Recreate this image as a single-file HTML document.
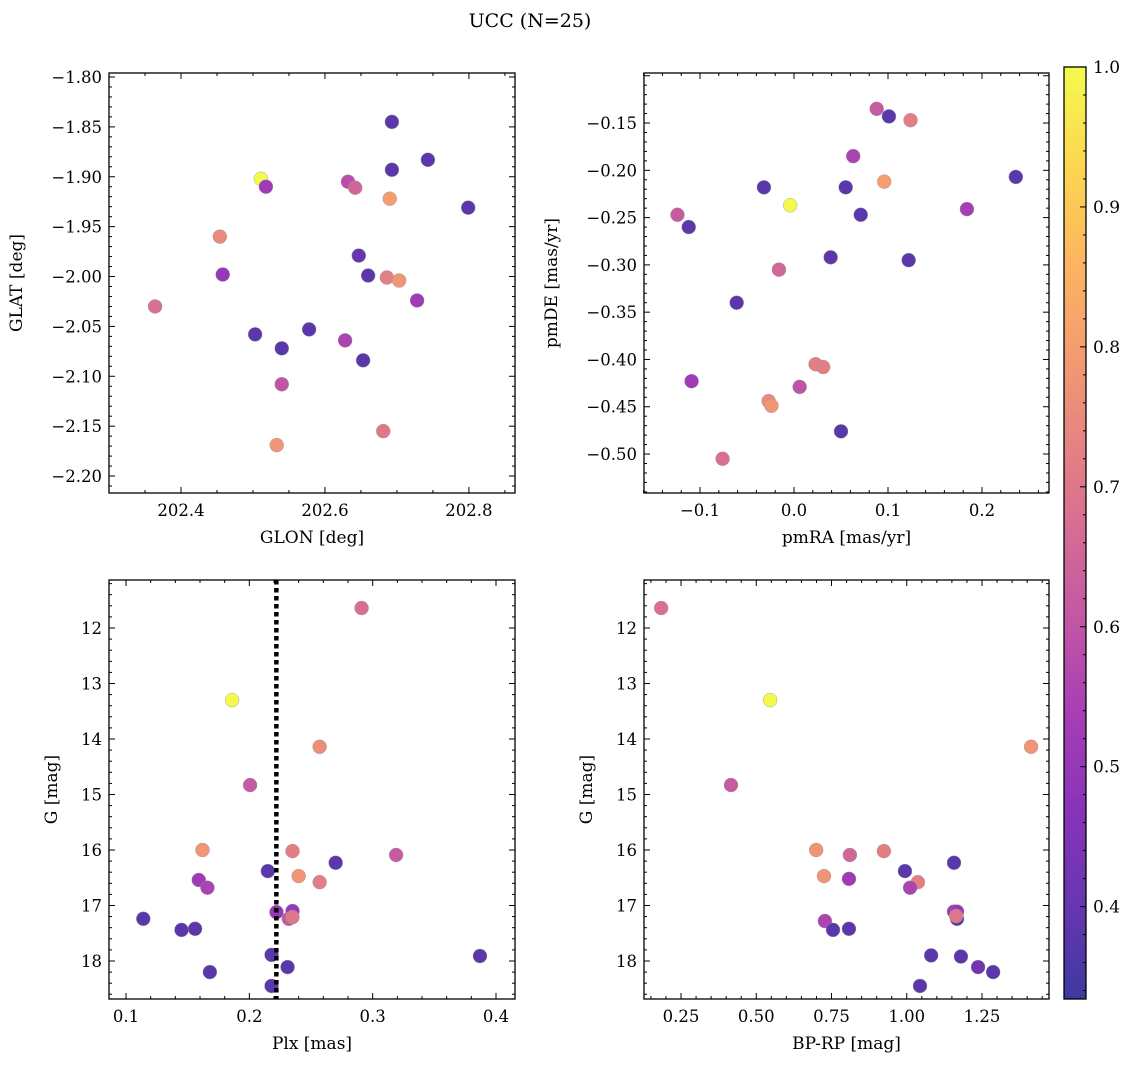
<!DOCTYPE html>
<html><head><meta charset="utf-8"><style>
html,body{margin:0;padding:0;background:#fff;}
svg text{font-family:"DejaVu Serif","Liberation Serif",serif;fill:#000;}
</style></head><body>
<svg id="fig" width="1136" height="1067" viewBox="0 0 1136 1067" xmlns="http://www.w3.org/2000/svg">
<defs><linearGradient id="cbg" x1="0" y1="1" x2="0" y2="0"></linearGradient></defs>
<text x="530" y="27" font-size="19" text-anchor="middle">UCC (N=25)</text>
</svg>
<script>
// ---- data (per panel) ----
const glon = [202.511,202.518,202.693,202.693,202.743,202.799,202.632,202.642,202.690,202.454,202.458,202.647,202.660,202.686,202.703,202.728,202.364,202.503,202.540,202.578,202.628,202.653,202.540,202.533,202.681];
const glat = [-1.902,-1.910,-1.845,-1.893,-1.883,-1.931,-1.905,-1.911,-1.922,-1.960,-1.998,-1.979,-1.999,-2.001,-2.004,-2.024,-2.030,-2.058,-2.072,-2.053,-2.064,-2.084,-2.108,-2.169,-2.155];
const probA = [1.0,0.52,0.38,0.38,0.38,0.38,0.58,0.65,0.8,0.75,0.5,0.4,0.38,0.72,0.78,0.52,0.68,0.38,0.38,0.38,0.55,0.38,0.6,0.78,0.7];

const pmra = [-0.004,0.088,0.101,0.124,0.063,-0.032,0.055,0.096,0.236,-0.124,-0.112,0.071,0.184,0.039,0.122,-0.016,-0.061,0.023,0.031,-0.109,0.006,-0.027,-0.024,0.050,-0.076];
const pmde = [-0.237,-0.135,-0.143,-0.147,-0.185,-0.218,-0.218,-0.212,-0.207,-0.247,-0.260,-0.247,-0.241,-0.292,-0.295,-0.305,-0.340,-0.405,-0.408,-0.423,-0.429,-0.444,-0.449,-0.476,-0.505];
const probB = [1.0,0.62,0.38,0.72,0.55,0.38,0.38,0.8,0.38,0.62,0.38,0.38,0.53,0.38,0.38,0.65,0.38,0.72,0.72,0.52,0.6,0.75,0.78,0.38,0.68];

const plx = [0.291,0.186,0.257,0.2006,0.162,0.235,0.270,0.319,0.215,0.159,0.240,0.257,0.166,0.114,0.222,0.235,0.232,0.235,0.145,0.156,0.168,0.218,0.231,0.218,0.387];
const gmagC = [11.64,13.30,14.14,14.83,16.00,16.02,16.23,16.09,16.38,16.54,16.47,16.58,16.68,17.24,17.12,17.10,17.24,17.21,17.44,17.42,18.20,17.89,18.11,18.45,17.91];
const probC = [0.68,1.0,0.76,0.62,0.78,0.72,0.38,0.62,0.38,0.52,0.78,0.72,0.55,0.38,0.5,0.5,0.6,0.7,0.38,0.38,0.38,0.38,0.38,0.38,0.38];
const plxLine = 0.2219;

const bprp = [0.184,0.546,1.413,0.416,0.699,0.811,0.924,1.157,0.994,0.725,0.808,1.037,1.011,1.157,1.167,1.167,1.164,0.728,0.755,0.808,1.081,1.180,1.237,1.287,1.044];
const gmagD = [11.64,13.30,14.14,14.83,16.00,16.09,16.02,16.23,16.38,16.47,16.52,16.58,16.68,17.11,17.11,17.24,17.19,17.28,17.44,17.42,17.90,17.92,18.11,18.20,18.45];
const probD = [0.68,1.0,0.78,0.62,0.78,0.65,0.72,0.38,0.38,0.78,0.52,0.72,0.55,0.5,0.5,0.38,0.7,0.55,0.38,0.38,0.38,0.38,0.42,0.38,0.38];

const cbTicks = [0.4,0.5,0.6,0.7,0.8,0.9,1.0];

// ---- helpers ----
const NS="http://www.w3.org/2000/svg";
const svg=document.getElementById('fig');
function mk(tag,attrs,parent){const e=document.createElementNS(NS,tag);for(const k in attrs)e.setAttribute(k,attrs[k]);(parent||svg).appendChild(e);return e;}
const plasma=[[13,8,135],[65,4,157],[106,0,168],[143,13,164],[177,42,144],[204,71,120],[225,100,98],[242,132,75],[252,166,54],[252,206,37],[240,249,33]];
const VMIN=0.334,VMAX=1.0,ALPHA=0.8;
function cmap(v){let t=(v-VMIN)/(VMAX-VMIN);t=Math.max(0,Math.min(1,t));const f=t*10,i=Math.min(9,Math.floor(f)),r=f-i;const a=plasma[i],b=plasma[i+1];
  const c=[0,1,2].map(j=>a[j]+(b[j]-a[j])*r).map(x=>Math.round(x*ALPHA+255*(1-ALPHA)));return `rgb(${c[0]},${c[1]},${c[2]})`;}

function panel(cfg){
  const {L,R,T,B,x0,x1,y0,y1,inv,xt,xdec,xminor,yt,ydec,yminor,xlabel,ylabel,xs,ys,ps,name}=cfg;
  const X=v=>L+(v-x0)/(x1-x0)*(R-L);
  const Y=inv? (v=>T+(v-y0)/(y1-y0)*(B-T)) : (v=>B-(v-y0)/(y1-y0)*(B-T));
  const g=mk('g',{});
  
  
  for(let i=0;i<xs.length;i++){
    const c=mk('circle',{cx:X(xs[i]),cy:Y(ys[i]),r:7,fill:cmap(ps[i]),stroke:'#999','stroke-width':0.4},g);
    
    
  }
  if(cfg.extra)cfg.extra(g,X,Y);
  mk('rect',{x:L,y:T,width:R-L,height:B-T,fill:'none',stroke:'#000','stroke-width':1.3},g);
  const xstep=xt[1]-xt[0];
  for(let k=-2;k<xt.length+2;k++){
    const base=xt[0]+k*xstep;
    for(let m=0;m<xminor;m++){
      const v=base+m*xstep/xminor; const px=X(v);
      if(px<L-0.5||px>R+0.5)continue;
      const len=m===0?6:3;
      mk('line',{x1:px,y1:B,x2:px,y2:B-len,stroke:'#000','stroke-width':1},g);
      mk('line',{x1:px,y1:T,x2:px,y2:T+len,stroke:'#000','stroke-width':1},g);
    }
  }
  xt.forEach(v=>{const t=mk('text',{x:X(v),y:B+23,'font-size':16.5,'text-anchor':'middle'},g);t.textContent=v.toFixed(xdec).replace('-','\u2212');
    });
  const ystep=yt[1]-yt[0];
  for(let k=-2;k<yt.length+2;k++){
    const base=yt[0]+k*ystep;
    for(let m=0;m<yminor;m++){
      const v=base+m*ystep/yminor; const py=Y(v);
      if(py<T-0.5||py>B+0.5)continue;
      const len=m===0?6:3;
      mk('line',{x1:L,y1:py,x2:L+len,y2:py,stroke:'#000','stroke-width':1},g);
      mk('line',{x1:R,y1:py,x2:R-len,y2:py,stroke:'#000','stroke-width':1},g);
    }
  }
  yt.forEach(v=>{const t=mk('text',{x:L-7,y:Y(v)+6,'font-size':16.5,'text-anchor':'end'},g);t.textContent=v.toFixed(ydec).replace('-','\u2212');
    });
  const xl=mk('text',{x:(L+R)/2,y:B+50,'font-size':17,'text-anchor':'middle'},g);xl.textContent=xlabel;
  
  const cy=(T+B)/2;
  const yl=mk('text',{x:cfg.ylx,y:cy,'font-size':17,'text-anchor':'middle',transform:`rotate(-90 ${cfg.ylx} ${cy})`},g);yl.textContent=ylabel;
  
}

panel({name:'glon-glat-panel',L:109,R:515,T:73,B:493,x0:202.3,x1:202.864,y0:-2.217,y1:-1.796,xt:[202.4,202.6,202.8],xdec:1,xminor:4,
  yt:[-2.20,-2.15,-2.10,-2.05,-2.00,-1.95,-1.90,-1.85,-1.80],ydec:2,yminor:5,xlabel:'GLON [deg]',ylabel:'GLAT [deg]',ylx:22,xs:glon,ys:glat,ps:probA});
panel({name:'proper-motion-panel',L:644,R:1049,T:73,B:493,x0:-0.1596,x1:0.2713,y0:-0.5412,y1:-0.0971,xt:[-0.1,0.0,0.1,0.2],xdec:1,xminor:5,
  yt:[-0.50,-0.45,-0.40,-0.35,-0.30,-0.25,-0.20,-0.15],ydec:2,yminor:5,xlabel:'pmRA [mas/yr]',ylabel:'pmDE [mas/yr]',ylx:557,xs:pmra,ys:pmde,ps:probB});
panel({name:'plx-g-panel',L:109,R:515,T:580,B:999,x0:0.0862,x1:0.4154,y0:11.135,y1:18.685,inv:true,xt:[0.1,0.2,0.3,0.4],xdec:1,xminor:5,
  yt:[12,13,14,15,16,17,18],ydec:0,yminor:5,xlabel:'Plx [mas]',ylabel:'G [mag]',ylx:57,xs:plx,ys:gmagC,ps:probC,
  extra:(g,X,Y)=>{const l=mk('line',{x1:X(plxLine),y1:580,x2:X(plxLine),y2:999,stroke:'#000','stroke-width':4.5,'stroke-dasharray':'4.5,3.5'},g);
    }});
panel({name:'cmd-panel',L:644,R:1049,T:580,B:999,x0:0.127,x1:1.4726,y0:11.135,y1:18.685,inv:true,xt:[0.25,0.5,0.75,1.0,1.25],xdec:2,xminor:5,
  yt:[12,13,14,15,16,17,18],ydec:0,yminor:5,xlabel:'BP-RP [mag]',ylabel:'G [mag]',ylx:592,xs:bprp,ys:gmagD,ps:probD});

(function(){
  const L=1064,R=1086,T=67,B=999;
  const grad=document.getElementById('cbg');
  for(let i=0;i<=20;i++){const v=VMIN+(VMAX-VMIN)*i/20;mk('stop',{offset:(i/20),'stop-color':cmap(v)},grad);}
  const g=mk('g',{});
  
  
  mk('rect',{x:L,y:T,width:R-L,height:B-T,fill:'url(#cbg)',stroke:'#000','stroke-width':1.3},g);
  const Y=v=>B-(v-VMIN)/(VMAX-VMIN)*(B-T);
  for(let v=0.34;v<=1.0001;v+=0.02){const py=Y(v);const major=Math.abs(Math.round(v*10)-v*10)<1e-6;
    mk('line',{x1:R,y1:py,x2:R-(major?6:3),y2:py,stroke:'#000','stroke-width':1},g);}
  cbTicks.forEach(v=>{const t=mk('text',{x:R+7,y:Y(v)+6,'font-size':17},g);t.textContent=v.toFixed(1);
    });
})();
</script>
</body></html>
